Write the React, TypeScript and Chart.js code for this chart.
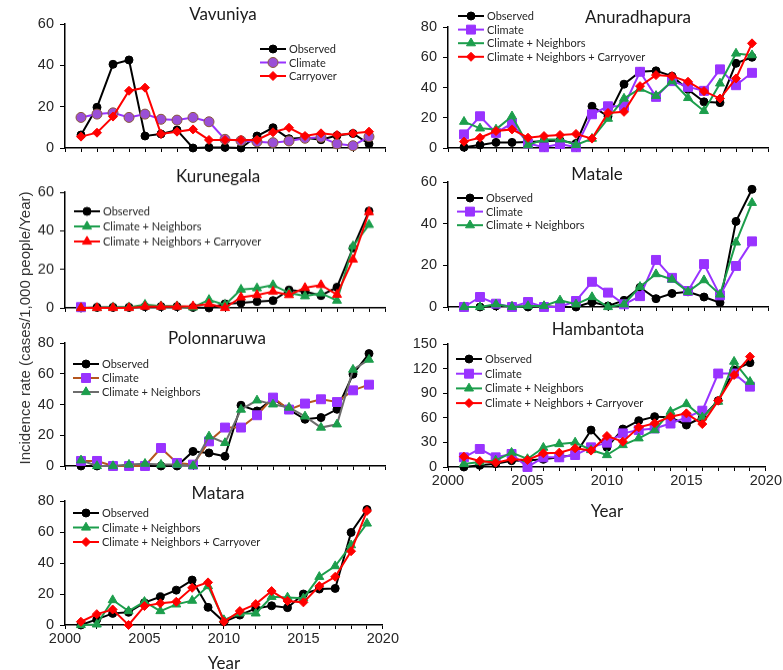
import React, { useEffect, useRef } from 'react';
import { Chart, registerables } from 'chart.js';
import { drawPoint } from 'chart.js/helpers';

Chart.register(...registerables);

// ---------------- DATA ----------------
const YEARS = [2001, 2002, 2003, 2004, 2005, 2006, 2007, 2008, 2009, 2010, 2011, 2012, 2013, 2014, 2015, 2016, 2017, 2018, 2019];
const X_TICK_LABELS = ['2000', '2005', '2010', '2015', '2020'];

// Vavuniya
const vavObserved = [6.3, 19.7, 40.5, 42.6, 5.8, 6.8, 8.7, 0, 0.3, 0.3, 0, 5.8, 9.8, 4.5, 5, 4, 6, 7, 2];
const vavClimate = [14.8, 16.4, 17, 14.8, 16.4, 13.9, 13.5, 14.8, 12.7, 4.2, 3.5, 3, 2.6, 3.4, 4.7, 5.2, 2, 1.1, 5.5];
const vavCarryover = [5.5, 7.4, 15.2, 27.7, 29.2, 6.8, 7.9, 9, 3.9, 3.9, 3.9, 3.9, 7.6, 9.8, 5.8, 7.1, 6.3, 7.1, 7.9];

// Anuradhapura
const anuObserved = [0.5, 2, 3.7, 3.7, 4, 4.5, 5, 3, 27.6, 21, 42.2, 50.4, 51, 47.5, 38.7, 30.5, 30, 56, 60];
const anuClimate = [9, 21, 10, 16.3, 3, 0.5, 2.6, 0.5, 22.3, 27.6, 27.6, 50.4, 33.8, 44.2, 40.4, 37.8, 52, 41.5, 49.7];
const anuClimNeigh = [17.4, 13, 12.3, 21, 2, 5.7, 5.7, 2, 6.2, 19.4, 32.7, 39.3, 34.5, 44.2, 33.1, 24.5, 42.7, 62.5, 61.4];
const anuClimNeighCarry = [4.2, 6.8, 11.2, 12.3, 6.8, 7.9, 8.6, 9.3, 6.2, 23.2, 23.9, 40.9, 48.2, 47.5, 43.8, 37.6, 32.7, 46, 69.2];

// Kurunegala
const kurObserved = [0, 0.3, 0.3, 0.3, 0.7, 0.7, 0.7, 0.3, 0, 2.1, 2.6, 3.3, 3.8, 9.3, 8.5, 6.4, 10.7, 31.1, 50.2];
const kurClimate = [0.4, null, null, null, null, null, null, null, null, null, null, null, null, null, null, null, null, null, null];
const kurClimNeigh = [0, 0, 0.3, 0.3, 1.7, 0.9, 0.9, 0.3, 4.2, 1.6, 9.5, 10.2, 11.9, 7.8, 6.1, 7.6, 3.8, 32, 43.1];
const kurClimNeighCarry = [0, 0, 0, 0, 0.7, 0.7, 0.7, 0.9, 2.1, 0, 5.5, 6.7, 8.5, 6.7, 10.4, 11.9, 6.9, 25.1, 49.7];

// Matale
const matObserved = [0, 0, 0.5, 0.5, 0, 0.3, 0, 0, 2.4, 0.5, 3.2, 9.4, 4, 6.5, 7.3, 4.8, 2.1, 41.1, 56.5];
const matClimate = [0, 4.8, 1.6, 0, 2.4, 0, 0, 2.9, 12.1, 6.9, 1.3, 5.2, 22.6, 14, 7.7, 20.6, 5.6, 19.7, 31.5];
const matClimNeigh = [0, 0, 1.3, 0, 0.5, 0.5, 3.2, 1.3, 4.8, 0, 1.3, 9.7, 15.8, 13.2, 7.3, 12.9, 6, 31, 50];

// Polonnaruwa
const polObserved = [0, 0, 0, 0, 0, 0, 0, 9.5, 8.5, 6.3, 39.5, 35.8, 43.8, 36.7, 30.4, 31.5, 36.9, 59.7, 73.1];
const polClimate = [3.3, 3.3, 0, 0, 0, 11.7, 2, 0.9, 16, 25, 25, 33, 44.5, 36.7, 40.6, 43.4, 41.6, 49.2, 52.9];
const polClimNeigh = [3.7, 0, 0, 0.9, 1.5, 0.9, 0.9, 0, 19.3, 15, 36.7, 42.7, 40.1, 38, 32.3, 25, 27.1, 62.7, 69.2];

// Hambantota
const hamObserved = [0, 2, 4, 7.7, 8, 9.4, 11.8, 15, 45, 24, 46.3, 56.5, 61.4, 60.6, 51.2, 60.6, 80.9, 118.3, 127.2];
const hamClimate = [11.8, 22, 11.8, 15.9, 0, 11.8, 11.8, 14.6, 24, 29.7, 41, 45, 47, 53, 60.6, 68.7, 114, 114, 98];
const hamClimNeigh = [3.7, 6, 8, 17.5, 9.8, 23.6, 28, 30, 20.7, 14.6, 26.8, 35, 45, 67.5, 76.8, 60.6, 79.7, 128.5, 104];
const hamClimNeighCarry = [12.6, 7.3, 5.3, 9.3, 8.5, 16.7, 17.5, 22.8, 20, 37.8, 30.9, 48.4, 53.3, 61.4, 65.4, 52.4, 80.9, 112.2, 134.6];

// Matara
const mtrObserved = [0, 3.6, 7.5, 8.2, 14.4, 18.2, 22.5, 29, 11.4, 2.1, 6.4, 10.7, 12.4, 11.2, 20, 23.2, 23.6, 59.7, 74.5];
const mtrClimNeigh = [0, 0.4, 16.1, 9, 15, 9, 13.3, 15.7, 25.1, 3.2, 7.5, 7.5, 18.2, 17.8, 17.2, 31.1, 38, 51.5, 65.5];
const mtrClimNeighCarry = [2.1, 7, 10, 0, 12.2, 14, 15, 24, 27.5, 2.1, 9, 13.5, 21.9, 15.5, 14.6, 25.1, 31.1, 47.6, 73.6];

// ---------------- STYLES ----------------
const COL = {
  black: '#000000',
  purple: '#9933ff',
  green: '#1c9e4c',
  red: '#ff0000',
  brown: '#b5561f',
  gray: '#6d6d6d',
  edge: '#8a5a3a',
};
const CALIBRI = 'Lato, "Open Sans", sans-serif';
const ARIAL = '"Liberation Sans Narrow", "Liberation Sans", Arial, sans-serif';

type Series = {
  label: string;
  data: (number | null)[];
  line: string;
  fill: string;
  edge: string;
  style: string;
  r: number;
  legend?: boolean;
};

const observed = (data: (number | null)[]): Series => ({ label: 'Observed', data, line: COL.black, fill: COL.black, edge: COL.black, style: 'circle', r: 4 });
const climateSq = (data: (number | null)[], line = COL.purple, legend = true): Series => ({ label: 'Climate', data, line, fill: COL.purple, edge: COL.purple, style: 'rect', r: 6.3, legend });
const climNeigh = (data: (number | null)[], line = COL.green): Series => ({ label: 'Climate + Neighbors', data, line, fill: COL.green, edge: COL.green, style: 'triangle', r: 5.2 });
const climNeighCarry = (data: (number | null)[], style = 'rectRot'): Series => ({ label: 'Climate + Neighbors + Carryover', data, line: COL.red, fill: COL.red, edge: COL.red, style, r: style === 'triangle' ? 5.2 : 4.5 });

type PanelDef = {
  title: string;
  plotLeft: number;
  plotTop: number;
  plotBottom: number;
  yMax: number;
  yStep: number;
  titleX: number;
  titleY: number;
  legX: number;
  legY: number;
  legRow: number;
  xLabels: boolean;
  xH: number;
  series: Series[];
};

const PANELS: PanelDef[] = [
  {
    title: 'Vavuniya', plotLeft: 65, plotTop: 24, plotBottom: 148, yMax: 60, yStep: 20,
    titleX: 223, titleY: 15, legX: 260, legY: 49, legRow: 13.5, xLabels: false, xH: 18,
    series: [
      observed(vavObserved),
      { label: 'Climate', data: vavClimate, line: COL.purple, fill: '#9a4fd6', edge: COL.edge, style: 'circle', r: 5 },
      { label: 'Carryover', data: vavCarryover, line: COL.red, fill: COL.red, edge: COL.red, style: 'rectRot', r: 4.5 },
    ],
  },
  {
    title: 'Anuradhapura', plotLeft: 448, plotTop: 27, plotBottom: 148, yMax: 80, yStep: 20,
    titleX: 638, titleY: 18, legX: 458, legY: 16, legRow: 13.6, xLabels: false, xH: 18,
    series: [observed(anuObserved), climateSq(anuClimate), climNeigh(anuClimNeigh), climNeighCarry(anuClimNeighCarry)],
  },
  {
    title: 'Kurunegala', plotLeft: 65, plotTop: 192, plotBottom: 307.5, yMax: 60, yStep: 20,
    titleX: 218, titleY: 177, legX: 74, legY: 211, legRow: 15, xLabels: false, xH: 18,
    series: [observed(kurObserved), climateSq(kurClimate, COL.purple, false), climNeigh(kurClimNeigh), climNeighCarry(kurClimNeighCarry, 'triangle')],
  },
  {
    title: 'Matale', plotLeft: 448, plotTop: 182, plotBottom: 307, yMax: 60, yStep: 20,
    titleX: 597, titleY: 175, legX: 457, legY: 198, legRow: 13.6, xLabels: false, xH: 18,
    series: [observed(matObserved), climateSq(matClimate), climNeigh(matClimNeigh)],
  },
  {
    title: 'Polonnaruwa', plotLeft: 65, plotTop: 343, plotBottom: 466, yMax: 80, yStep: 20,
    titleX: 217, titleY: 339, legX: 73, legY: 364, legRow: 14, xLabels: false, xH: 18,
    series: [observed(polObserved), climateSq(polClimate, COL.brown), climNeigh(polClimNeigh, COL.gray)],
  },
  {
    title: 'Hambantota', plotLeft: 448, plotTop: 344, plotBottom: 467, yMax: 150, yStep: 30,
    titleX: 598, titleY: 330, legX: 456, legY: 359, legRow: 14.7, xLabels: true, xH: 55,
    series: [observed(hamObserved), climateSq(hamClimate), climNeigh(hamClimNeigh), climNeighCarry(hamClimNeighCarry)],
  },
  {
    title: 'Matara', plotLeft: 65, plotTop: 501, plotBottom: 625, yMax: 80, yStep: 20,
    titleX: 218, titleY: 494, legX: 73, legY: 513, legRow: 14.5, xLabels: true, xH: 49,
    series: [observed(mtrObserved), climNeigh(mtrClimNeigh), climNeighCarry(mtrClimNeighCarry)],
  },
];

const PAD_L = 50;
const PAD_R = 15;
const PAD_T = 30;
const PLOT_W = 320;

function Panel({ p }: { p: PanelDef }) {
  const ref = useRef<HTMLCanvasElement | null>(null);
  const cw = PAD_L + PLOT_W + PAD_R;
  const ch = PAD_T + (p.plotBottom - p.plotTop) + p.xH;
  const left = p.plotLeft - PAD_L;
  const top = p.plotTop - PAD_T;

  useEffect(() => {
    if (!ref.current) return;
    const n = p.series.length;
    const decor = {
      id: 'decor',
      afterDatasetsDraw(chart: any) {
        const ctx = chart.ctx as CanvasRenderingContext2D;
        ctx.save();
        ctx.fillStyle = '#1a1a1a';
        ctx.font = `17px ${CALIBRI}`;
        ctx.textAlign = 'center';
        ctx.textBaseline = 'middle';
        ctx.fillText(p.title, p.titleX - left, p.titleY - top);
        let row = 0;
        p.series.forEach((s) => {
          if (s.legend === false) return;
          const y = p.legY - top + row * p.legRow;
          const x0 = p.legX - left;
          row++;
          ctx.strokeStyle = s.line;
          ctx.lineWidth = 2;
          ctx.beginPath();
          ctx.moveTo(x0, y);
          ctx.lineTo(x0 + 26, y);
          ctx.stroke();
          ctx.fillStyle = s.fill;
          ctx.strokeStyle = s.edge;
          ctx.lineWidth = 1;
          drawPoint(ctx, { pointStyle: s.style as any, radius: s.r, rotation: 0, borderWidth: 1 } as any, x0 + 13, y);
          ctx.fillStyle = '#262626';
          ctx.font = `11px ${CALIBRI}`;
          ctx.textAlign = 'left';
          ctx.textBaseline = 'middle';
          ctx.fillText(s.label, x0 + 29, y + 0.5);
        });
        ctx.restore();
      },
    };

    const chart = new Chart(ref.current, {
      type: 'line',
      data: {
        datasets: p.series.map((s, i) => ({
          label: s.label,
          data: YEARS.map((yr, k) => ({ x: yr, y: s.data[k] })),
          borderColor: s.line,
          backgroundColor: s.fill,
          pointBackgroundColor: s.fill,
          pointBorderColor: s.edge,
          pointBorderWidth: 1,
          pointStyle: s.style as any,
          pointRadius: s.r,
          borderWidth: 2,
          tension: 0,
          spanGaps: false,
          clip: false as any,
          order: n - i,
        })),
      },
      options: {
        animation: false,
        responsive: false,
        maintainAspectRatio: false,
        events: [],
        layout: { padding: { left: 0, right: PAD_R, top: PAD_T, bottom: 0 } },
        plugins: { legend: { display: false }, tooltip: { enabled: false }, title: { display: false } },
        scales: {
          x: {
            type: 'linear',
            min: 2000,
            max: 2020,
            afterBuildTicks: (scale: any) => {
              const ticks = [];
              for (let v = 2000; v <= 2020; v++) ticks.push({ value: v });
              scale.ticks = ticks;
            },
            ticks: {
              autoSkip: false,
              maxRotation: 0,
              padding: 1,
              color: '#262626',
              font: { family: ARIAL, size: 14.5 },
              callback: (v: any) => {
                if (!p.xLabels) return '';
                const s = String(v);
                return X_TICK_LABELS.includes(s) ? s : '';
              },
            },
            grid: { drawOnChartArea: false, drawTicks: true, tickLength: 4, color: '#000', lineWidth: 1 },
            border: { display: true, color: '#000', width: 1.5 },
            title: {
              display: p.xLabels,
              text: 'Year',
              color: '#1a1a1a',
              font: { family: CALIBRI, size: 17 },
              padding: { top: 0, bottom: 0 },
            },
            afterFit: (scale: any) => {
              scale.height = p.xH;
            },
          },
          y: {
            min: 0,
            max: p.yMax,
            ticks: {
              stepSize: p.yStep,
              padding: 6,
              color: '#262626',
              font: { family: ARIAL, size: 14.5 },
            },
            grid: { drawOnChartArea: false, drawTicks: true, tickLength: 5, color: '#000', lineWidth: 1 },
            border: { display: true, color: '#000', width: 1.5 },
            afterFit: (scale: any) => {
              scale.width = PAD_L;
            },
          },
        },
      },
      plugins: [decor],
    } as any);
    return () => chart.destroy();
  }, []);

  return (
    <canvas
      ref={ref}
      width={cw}
      height={ch}
      style={{ position: 'absolute', left, top, width: cw, height: ch }}
    />
  );
}

export default function App() {
  return (
    <div
      style={{
        position: 'absolute',
        left: 0,
        top: 0,
        width: 783,
        height: 670,
        overflow: 'hidden',
        background: '#ffffff',
      }}
    >
      {PANELS.map((p) => (
        <Panel key={p.title} p={p} />
      ))}
      <div
        style={{
          position: 'absolute',
          left: 25 - 170,
          top: 328 - 10,
          width: 340,
          height: 20,
          lineHeight: '20px',
          textAlign: 'center',
          transform: 'rotate(-90deg)',
          transformOrigin: '50% 50%',
          fontFamily: '"Liberation Sans", Arial, sans-serif',
          fontSize: 15,
          color: '#333333',
          whiteSpace: 'nowrap',
        }}
      >
        Incidence rate (cases/1,000 people/Year)
      </div>
    </div>
  );
}
